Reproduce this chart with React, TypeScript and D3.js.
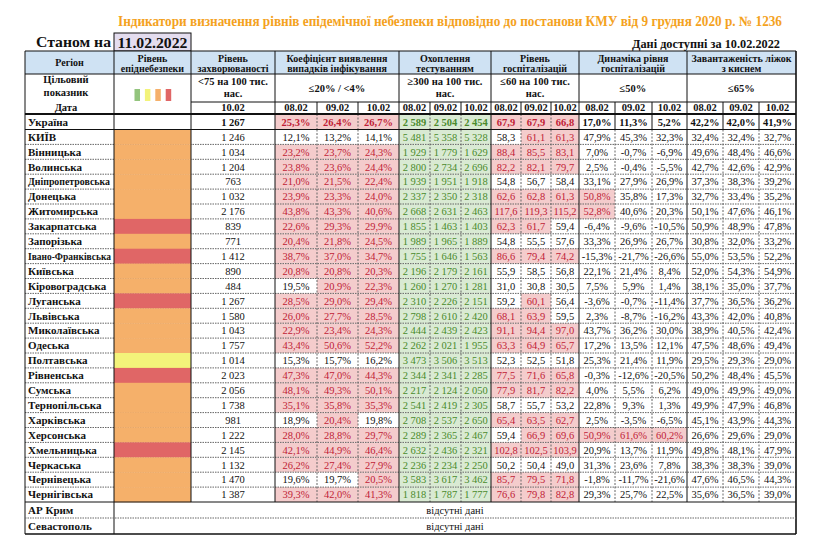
import React from "react";
import * as d3 from "d3";

const regions = ["КИЇВ","Вінницька","Волинська","Дніпропетровська","Донецька","Житомирська","Закарпатська","Запорізька","Івано-Франківська","Київська","Кіровоградська","Луганська","Львівська","Миколаївська","Одеська","Полтавська","Рівненська","Сумська","Тернопільська","Харківська","Херсонська","Хмельницька","Черкаська","Чернівецька","Чернігівська"];
const levels = ["orange","orange","orange","orange","orange","orange","red","orange","red","orange","orange","red","orange","orange","orange","yellow","red","orange","orange","orange","orange","red","orange","orange","orange"];
const incidence = [1246,1034,1204,763,1032,2176,839,771,1412,890,484,1267,1580,1043,1757,1014,2023,2056,1738,981,1222,2145,1132,1470,1387];
const coef0802 = [12.1,23.2,23.8,21.0,23.9,43.8,22.6,20.4,38.7,20.8,19.5,28.5,26.0,22.9,43.4,15.3,47.3,48.1,35.1,18.9,28.0,42.1,26.2,19.6,39.3];
const coef0902 = [13.2,23.7,23.6,21.5,23.3,43.3,29.3,21.8,37.0,20.8,20.9,29.0,27.7,23.4,50.6,15.7,47.0,49.3,35.8,20.4,28.8,44.9,27.4,19.7,42.0];
const coef1002 = [14.1,24.3,24.4,22.4,24.0,40.6,29.9,24.5,34.7,20.3,22.3,29.4,28.5,24.3,52.2,16.2,44.3,50.1,35.3,19.8,29.7,46.4,27.9,20.5,41.3];
const test0802 = [5481,1929,2800,1939,2337,2668,1855,1989,1755,2196,1260,2310,2798,2444,2262,3473,2344,2217,2541,2708,2289,2632,2236,3583,1818];
const test0902 = [5358,1779,2734,1951,2350,2631,1463,1965,1646,2179,1270,2226,2610,2439,2021,3506,2341,2124,2419,2537,2365,2436,2234,3617,1787];
const test1002 = [5328,1629,2696,1918,2318,2463,1403,1889,1563,2161,1281,2151,2420,2423,1955,3513,2285,2050,2305,2650,2467,2321,2250,3462,1777];
const hosp0802 = [58.3,88.4,82.2,54.8,62.6,117.6,62.3,54.8,86.6,55.9,31.0,59.2,68.1,91.1,63.3,52.3,77.5,77.9,58.7,65.4,59.4,102.8,50.2,85.7,76.6];
const hosp0902 = [61.1,85.5,82.1,56.7,62.8,119.3,61.7,55.5,79.4,58.5,30.8,60.1,63.9,94.4,64.9,52.5,71.6,81.7,55.7,63.5,66.9,102.5,50.4,79.5,79.8];
const hosp1002 = [61.3,83.1,79.7,58.4,61.3,115.2,59.4,57.6,74.2,56.8,30.5,56.4,59.5,97.0,65.7,51.8,65.8,82.2,53.2,62.7,69.6,103.9,49.0,71.8,82.8];
const dyn0802 = [47.9,7.0,2.5,33.1,50.8,52.8,-6.4,33.3,-15.3,22.1,7.5,-3.6,2.3,43.7,17.2,25.3,-0.3,4.0,22.8,2.5,50.9,20.9,31.3,-1.8,29.3];
const dyn0902 = [45.3,-0.7,-0.4,27.9,35.8,40.6,-9.6,26.9,-21.7,21.4,5.9,-0.7,-8.7,36.2,13.5,21.4,-12.6,5.5,9.3,-3.5,61.6,13.7,23.6,-11.7,25.7];
const dyn1002 = [32.3,-6.9,-5.5,26.9,17.3,20.3,-10.5,26.7,-26.6,8.4,1.4,-11.4,-16.2,30.0,12.1,11.9,-20.5,6.2,1.3,-6.5,60.2,11.9,7.8,-21.6,22.5];
const beds0802 = [32.4,49.6,42.7,37.3,32.7,50.1,50.9,30.8,55.0,52.0,38.1,37.7,43.3,38.9,47.5,29.5,50.2,49.0,49.9,45.1,26.6,49.8,38.3,47.6,35.6];
const beds0902 = [32.4,48.4,42.6,38.3,33.4,47.6,48.9,32.0,53.5,54.3,35.0,36.5,42.0,40.5,48.6,29.3,48.4,49.9,47.9,43.9,29.6,48.1,38.3,46.5,36.5];
const beds1002 = [32.7,46.6,42.9,39.2,35.2,46.1,47.8,33.2,52.2,54.9,37.7,36.2,40.8,42.4,49.4,29.0,45.5,49.0,46.8,44.3,29.0,47.9,39.0,44.3,39.0];

const ukraineIncidence = 1267;
const ukraineCoef = [25.3, 26.4, 26.7];
const ukraineTest = [2589, 2504, 2454];
const ukraineHosp = [67.9, 67.9, 66.8];
const ukraineDyn = [17.0, 11.3, 5.2];
const ukraineBeds = [42.2, 42.0, 41.9];

const dates = ["08.02", "09.02", "10.02"];
const extraRegions = ["АР Крим", "Севастополь"];

const title = "Індикатори визначення рівнів епідемічної небезпеки відповідно до постанови КМУ від 9 грудня 2020 р. № 1236";

const locale = d3.formatLocale({ decimal: ",", thousands: " ", grouping: [3], currency: ["", ""], minus: "-" });
const fmtInt = locale.format(",d");
const fmt1 = locale.format(".1f");
const fmtPct = (v: number) => fmt1(v) + "%";

const colEdges = [25, 114, 191, 275, 317, 358, 399, 430, 461, 491, 521, 551, 579, 615, 652, 687, 723, 759, 796];
const groupEdges = [25, 114, 191, 275, 399, 491, 579, 687, 796];
const innerEdges = [317, 358, 430, 461, 521, 551, 615, 652, 723, 759];

const LEVEL_COLORS: Record<string, string> = { green: "#93c47d", yellow: "#f3f37a", orange: "#f5b06a", red: "#e06666" };
const PINK = "#f4cccc", RED_TXT = "#c01c36", GREEN_FILL = "#d9ead3", GREEN_TXT = "#4a8a2c";
const SERIF = "'Liberation Serif', 'Times New Roman', serif";

const groups = [
  { cols: [3, 4, 5], series: [coef0802, coef0902, coef1002], ukr: ukraineCoef, fmt: fmtPct, kind: "pink", bad: (v: number) => v > 20 },
  { cols: [6, 7, 8], series: [test0802, test0902, test1002], ukr: ukraineTest, fmt: fmtInt, kind: "green", bad: (_v: number) => false },
  { cols: [9, 10, 11], series: [hosp0802, hosp0902, hosp1002], ukr: ukraineHosp, fmt: fmt1, kind: "pink", bad: (v: number) => v > 60 },
  { cols: [12, 13, 14], series: [dyn0802, dyn0902, dyn1002], ukr: ukraineDyn, fmt: fmtPct, kind: "pink", bad: (v: number) => v > 50 },
  { cols: [15, 16, 17], series: [beds0802, beds0902, beds1002], ukr: ukraineBeds, fmt: fmtPct, kind: "pink", bad: (v: number) => v > 65 },
];

const Y_TOP = 51, Y_R1 = 74, Y_R2 = 102, Y_R3 = 114, Y_UKR = 129.5, Y_DATA_END = 502, Y_EXTRA = [502, 518, 534];

export default function App() {
  const y = d3.scaleBand<string>().domain(regions).range([Y_UKR, Y_DATA_END]).padding(0);
  const h = y.bandwidth();
  const cx = (c: number) => (colEdges[c] + colEdges[c + 1]) / 2;
  const cw = (c: number) => colEdges[c + 1] - colEdges[c];

  const fills: JSX.Element[] = [];
  const texts: JSX.Element[] = [];
  const levelFills: JSX.Element[] = [];

  const rowsAll = [{ name: "Україна", y0: Y_R3, h: Y_UKR - Y_R3, i: -1 }].concat(
    regions.map((r, i) => ({ name: r, y0: y(r) as number, h, i }))
  );

  rowsAll.forEach((row) => {
    const isU = row.i < 0;
    const mid = row.y0 + row.h / 2 + 3.8;
    const nameProps: any = {};
    if (row.name === "Дніпропетровська") { nameProps.textLength = 82; nameProps.lengthAdjust = "spacingAndGlyphs"; }
    if (row.name === "Івано-Франківська") { nameProps.textLength = 83; nameProps.lengthAdjust = "spacingAndGlyphs"; nameProps.fontSize = 10; }
    texts.push(<text key={"n" + row.name} x={28} y={mid} fontSize={11} fontWeight="bold" fill="#111" {...nameProps}>{row.name}</text>);
    if (!isU) {
      levelFills.push(<rect key={"l" + row.name} x={colEdges[1]} y={row.y0} width={cw(1)} height={row.h + 0.3} fill={LEVEL_COLORS[levels[row.i]]} />);
    }
    const inc = isU ? ukraineIncidence : incidence[row.i];
    texts.push(<text key={"inc" + row.name} x={cx(2)} y={mid} textAnchor="middle" fontSize={10.5} fontWeight={isU ? "bold" : "normal"} fill="#111">{fmtInt(inc)}</text>);
    groups.forEach((g, gi) => {
      g.cols.forEach((c, k) => {
        const v = isU ? g.ukr[k] : g.series[k][row.i];
        let fill = "none", color = "#111";
        if (g.kind === "green") { fill = GREEN_FILL; color = GREEN_TXT; }
        else if (g.bad(v)) { fill = PINK; color = RED_TXT; }
        if (fill !== "none") fills.push(<rect key={`f${gi}${k}${row.name}`} x={colEdges[c]} y={row.y0} width={cw(c)} height={row.h} fill={fill} />);
        texts.push(<text key={`t${gi}${k}${row.name}`} x={cx(c)} y={mid} textAnchor="middle" fontSize={10.5} fontWeight={isU ? "bold" : "normal"} fill={color}>{g.fmt(v)}</text>);
      });
    });
  });

  const hdr1: [number, number, string[]][] = [
    [0, 1, ["Регіон"]],
    [1, 2, ["Рівень", "епіднебезпеки"]],
    [2, 3, ["Рівень", "захворюваності"]],
    [3, 6, ["Коефіцієнт виявлення", "випадків інфікування"]],
    [6, 9, ["Охоплення", "тестуванням"]],
    [9, 12, ["Рівень", "госпіталізацій"]],
    [12, 15, ["Динаміка рівня", "госпіталізацій"]],
    [15, 18, ["Завантаженість ліжок", "з киснем"]],
  ];
  const hdr2: [number, number, string[]][] = [
    [2, 3, ["<75 на 100 тис.", "нас."]],
    [3, 6, ["≤20% / <4%"]],
    [6, 9, ["≥300 на 100 тис.", "нас."]],
    [9, 12, ["≤60 на 100 тис.", "нас."]],
    [12, 15, ["≤50%"]],
    [15, 18, ["≤65%"]],
  ];

  const hLines: JSX.Element[] = [];
  regions.forEach((r, i) => {
    if (i === 0) return;
    const yy = y(r) as number;
    hLines.push(<line key={"hl" + r} x1={25} x2={796} y1={yy} y2={yy} stroke="#666" strokeWidth={1} strokeDasharray="1.5,1" />);
  });

  const vLines: JSX.Element[] = [];
  groupEdges.forEach((x) => {
    const yEnd = x === 25 || x === 796 || x === 114 ? Y_EXTRA[2] : Y_DATA_END;
    vLines.push(<line key={"vg" + x} x1={x} x2={x} y1={Y_TOP} y2={yEnd} stroke="#111" strokeWidth={x === 796 ? 1.6 : 1} />);
  });
  innerEdges.forEach((x) => {
    vLines.push(<line key={"vi" + x} x1={x} x2={x} y1={Y_R2} y2={Y_R3} stroke="#111" strokeWidth={1} />);
    const solidUkr = x >= 615;
    vLines.push(<line key={"viu" + x} x1={x} x2={x} y1={Y_R3} y2={Y_UKR} stroke={solidUkr ? "#111" : "#666"} strokeWidth={1} strokeDasharray={solidUkr ? undefined : "2,1.5"} />);
    vLines.push(<line key={"vid" + x} x1={x} x2={x} y1={Y_UKR} y2={Y_DATA_END} stroke="#666" strokeWidth={1} strokeDasharray="2,1.5" />);
  });

  const squares = ["green", "yellow", "orange", "red"];

  return (
    <svg width={826} height={550} style={{ position: "absolute", left: 0, top: 0, background: "#fff" }} fontFamily={SERIF}>
      <rect x={0} y={0} width={826} height={550} fill="#fff" />
      <text x={450} y={26} textAnchor="middle" fontSize={14} fontWeight="bold" fill="#f4a21e" textLength={664} lengthAdjust="spacingAndGlyphs">{title}</text>
      <text x={111} y={47} textAnchor="end" fontSize={14} fontWeight="bold" fill="#111" textLength={75} lengthAdjust="spacingAndGlyphs">Станом на</text>
      <rect x={114} y={33} width={77} height={18} fill="#e4ddef" stroke="#111" strokeWidth={1} />
      <text x={152.5} y={48} textAnchor="middle" fontSize={15} fontWeight="bold" fill="#111" textLength={70} lengthAdjust="spacingAndGlyphs">11.02.2022</text>
      <text x={780} y={48} textAnchor="end" fontSize={13} fontWeight="bold" fill="#111" textLength={148} lengthAdjust="spacingAndGlyphs">Дані доступні за  10.02.2022</text>

      <rect x={25} y={Y_TOP} width={771} height={Y_R1 - Y_TOP} fill="#cfe2f3" />
      {fills}
      {hLines}
      {levelFills}
      {vLines}

      <line x1={25} x2={796} y1={Y_TOP} y2={Y_TOP} stroke="#111" strokeWidth={1.2} />
      <line x1={25} x2={796} y1={Y_R1} y2={Y_R1} stroke="#111" strokeWidth={1} />
      <line x1={191} x2={796} y1={Y_R2} y2={Y_R2} stroke="#111" strokeWidth={1} />
      <line x1={25} x2={796} y1={Y_R3} y2={Y_R3} stroke="#111" strokeWidth={2} />
      <line x1={25} x2={796} y1={Y_UKR} y2={Y_UKR} stroke="#111" strokeWidth={1} />
      <line x1={25} x2={796} y1={Y_EXTRA[0]} y2={Y_EXTRA[0]} stroke="#111" strokeWidth={1} />
      <line x1={25} x2={796} y1={Y_EXTRA[1]} y2={Y_EXTRA[1]} stroke="#666" strokeWidth={1} strokeDasharray="1.5,1" />
      <line x1={25} x2={796} y1={Y_EXTRA[2]} y2={Y_EXTRA[2]} stroke="#111" strokeWidth={1.6} />

      {hdr1.map(([a, b, lines]) => {
        const x = (colEdges[a] + colEdges[b]) / 2;
        return lines.map((t, k) => (
          <text key={"h1" + a + k} x={x} y={lines.length === 1 ? 66 : 61.5 + k * 10} textAnchor="middle" fontSize={10} fontWeight="bold" fill="#111">{t}</text>
        ));
      })}
      {hdr2.map(([a, b, lines]) => {
        const x = (colEdges[a] + colEdges[b]) / 2;
        return lines.map((t, k) => (
          <text key={"h2" + a + k} x={x} y={lines.length === 1 ? 91.5 : 85 + k * 12} textAnchor="middle" fontSize={10.5} fontWeight="bold" fill="#111">{t}</text>
        ));
      })}
      <text x={66} y={83} textAnchor="middle" fontSize={10.5} fontWeight="bold" fill="#111">Цільовий</text>
      <text x={66} y={96} textAnchor="middle" fontSize={10.5} fontWeight="bold" fill="#111">показник</text>
      <text x={66} y={111} textAnchor="middle" fontSize={10.5} fontWeight="bold" fill="#111">Дата</text>
      {squares.map((c, k) => (
        <rect key={"sq" + c} x={134.5 + k * 10.4} y={89} width={5.5} height={12} fill={LEVEL_COLORS[c]} />
      ))}
      <text x={cx(2)} y={111} textAnchor="middle" fontSize={10.5} fontWeight="bold" fill="#111">10.02</text>
      {groups.map((g, gi) => g.cols.map((c, k) => (
        <text key={"d" + gi + k} x={cx(c)} y={111} textAnchor="middle" fontSize={10.5} fontWeight="bold" fill="#111">{dates[k]}</text>
      )))}

      {texts}

      {extraRegions.map((r, k) => {
        const mid = (Y_EXTRA[k] + Y_EXTRA[k + 1]) / 2 + 3.8;
        return (
          <g key={"ex" + r}>
            <text x={28} y={mid} fontSize={11} fontWeight="bold" fill="#111">{r}</text>
            <text x={455} y={mid} textAnchor="middle" fontSize={10.5} fill="#111">відсутні дані</text>
          </g>
        );
      })}
    </svg>
  );
}
